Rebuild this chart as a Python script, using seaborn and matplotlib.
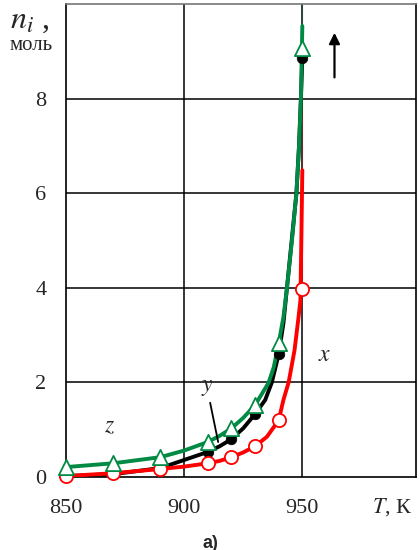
import matplotlib
matplotlib.use("Agg")
import matplotlib.pyplot as plt
import seaborn as sns

# -------------------------------
# Datos
# -------------------------------
T_puntos = [850, 870, 890, 910, 920, 930, 940, 950]
n_x = [0.02, 0.08, 0.17, 0.29, 0.42, 0.65, 1.2, 3.97]
n_y = [0.02, 0.06, 0.19, 0.53, 0.80, 1.33, 2.6, 8.86]
n_z = [0.21, 0.29, 0.42, 0.74, 1.03, 1.52, 2.83, 9.07]

# curvas (puntos leídos a lo largo de las líneas)
T_x_curva = [850, 870, 890, 900, 910, 915, 920, 925, 930, 935, 940, 942, 944.2,
             946.7, 948.4, 949.2, 950, 950]
n_x_curva = [0.02, 0.08, 0.17, 0.22, 0.29, 0.34, 0.42, 0.52, 0.65, 0.85, 1.2, 1.63, 2.0,
             2.68, 3.38, 3.74, 3.97, 9.0]
T_y_curva = [850, 870, 890, 900, 910, 915, 920, 925, 930, 934.3, 937.1, 940, 942,
             943.5, 945.5, 947.5, 948.6, 949.4, 950]
n_y_curva = [0.02, 0.06, 0.19, 0.36, 0.53, 0.65, 0.80, 1.03, 1.33, 1.63, 2.0, 2.6, 3.25,
             4.0, 5.0, 6.0, 7.0, 8.0, 8.86]
T_z_curva = [850, 870, 890, 900, 910, 915, 920, 925, 930, 935.7, 937.9, 940, 942,
             943.5, 945.6, 947.5, 948.6, 949.4, 950, 950]
n_z_curva = [0.21, 0.29, 0.42, 0.56, 0.74, 0.87, 1.03, 1.25, 1.52, 1.99, 2.32, 2.83, 3.38,
             4.0, 5.0, 6.0, 7.0, 8.0, 9.07, 10.0]

x_ticks = [850, 900, 950]
y_ticks = [0, 2, 4, 6, 8]

# -------------------------------
# Estilo
# -------------------------------
sns.set_style("white")
plt.rcParams['font.family'] = ['Liberation Serif', 'DejaVu Serif']
plt.rcParams['mathtext.fontset'] = 'stix'

rojo = '#ff0000'
verde = '#008a44'

fig = plt.figure(figsize=(4.2, 5.5), dpi=100)
ax = fig.add_axes([0.157, 0.1327, 0.833, 0.86])

# grid
for yv in [2, 4, 6, 8]:
    ax.axhline(yv, color='black', lw=1.1, zorder=1)
ax.axvline(900, color='black', lw=1.1, zorder=1)
ax.axvline(950, color='black', lw=1.1, zorder=1)

# líneas
sns.lineplot(x=T_y_curva, y=n_y_curva, sort=False, color='black', lw=2.8, ax=ax, zorder=3,
             solid_joinstyle='round')
sns.lineplot(x=T_x_curva, y=n_x_curva, sort=False, color=rojo, lw=2.8, ax=ax, zorder=4,
             solid_joinstyle='round')
sns.lineplot(x=T_z_curva, y=n_z_curva, sort=False, color=verde, lw=2.8, ax=ax, zorder=5,
             solid_joinstyle='round')

# marcadores
sns.scatterplot(x=T_puntos, y=n_y, color='black', marker='o', s=58, edgecolor='black',
                linewidth=0.5, ax=ax, zorder=6, clip_on=False)
sns.scatterplot(x=T_puntos, y=n_x, color='white', marker='o', s=90, edgecolor=rojo,
                linewidth=1.3, ax=ax, zorder=7, clip_on=False)
sns.scatterplot(x=T_puntos, y=n_z, color='white', marker='^', s=120, edgecolor=verde,
                linewidth=1.3, ax=ax, zorder=8, clip_on=False)

ax.set_xlim(850, 998)
ax.set_ylim(0, 10)
ax.set_xticks(x_ticks)
ax.set_yticks(y_ticks)
ax.tick_params(axis='both', length=0, labelsize=16)
ax.tick_params(axis='x', pad=16)
ax.tick_params(axis='y', pad=14)
ax.set_xlabel('')
ax.set_ylabel('')

for s in ['left', 'bottom', 'right']:
    ax.spines[s].set_color('black')
    ax.spines[s].set_linewidth(1.2)
ax.spines['top'].set_color('#777777')
ax.spines['top'].set_linewidth(1.2)

# etiquetas de curvas
ax.text(909.7, 1.9, '$y$', fontsize=17, ha='center', va='center')
ax.plot([911, 914.4], [1.57, 0.74], color='black', lw=1.3, zorder=9)
ax.text(868.6, 1.06, '$z$', fontsize=17, ha='center', va='center')
ax.text(959.3, 2.56, '$x$', fontsize=17, ha='center', va='center')

# flecha
ax.annotate('', xy=(963.6, 9.45), xytext=(963.6, 8.39),
            arrowprops=dict(arrowstyle='-|>', color='black', lw=1.6, mutation_scale=16))

# títulos de ejes
fig.text(0.07, 0.962, '$n_i$ ,', fontsize=23, ha='center', va='center')
fig.text(0.074, 0.918, 'моль', fontsize=15, ha='center', va='center')
fig.text(0.935, 0.078, '$T$, К', fontsize=16, ha='center', va='center')
fig.text(0.5, 0.0127, 'а)', fontsize=13, fontweight='bold', ha='center', va='center',
         family=['Liberation Sans', 'DejaVu Sans'])

fig.savefig('out.png', dpi=100)
